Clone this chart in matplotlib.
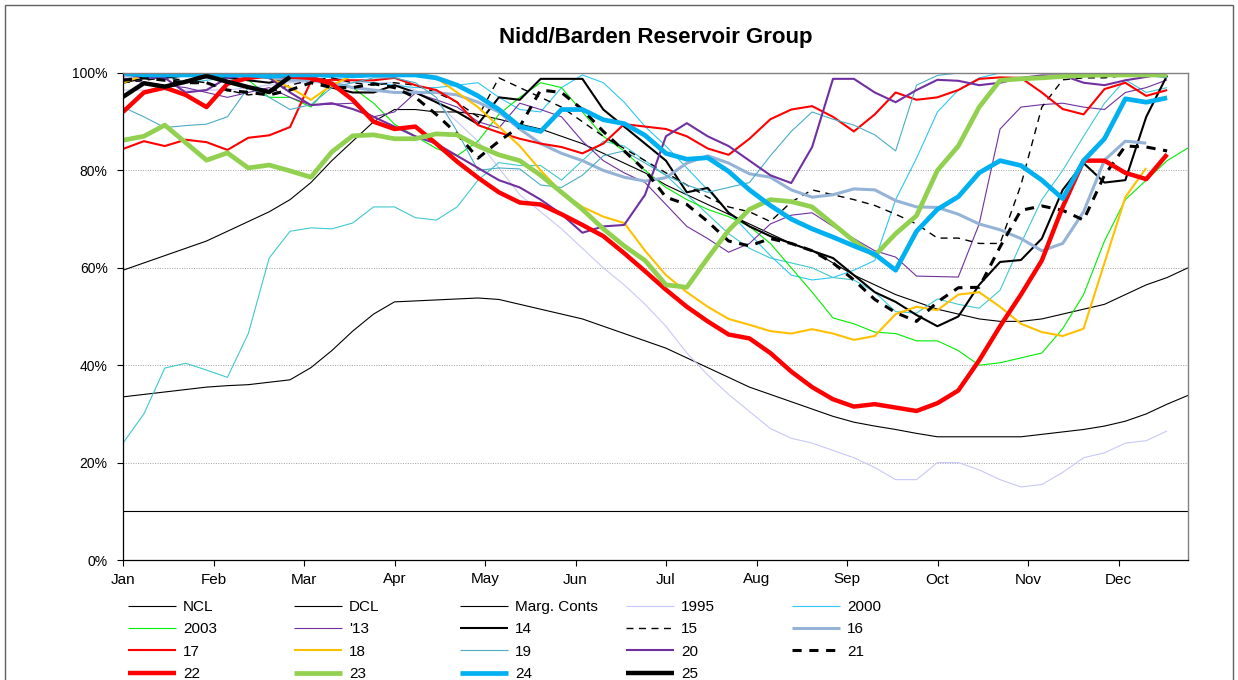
import numpy as np
import matplotlib
matplotlib.use('Agg')
import matplotlib.pyplot as plt
from matplotlib.patches import Rectangle

plt.rcParams['font.family'] = ['Liberation Sans', 'DejaVu Sans']

# ---------------- data (weekly % full, one value per week from Jan) ----------------
months = ['Jan', 'Feb', 'Mar', 'Apr', 'May', 'Jun', 'Jul', 'Aug', 'Sep', 'Oct', 'Nov', 'Dec']
pct_ticks = [0, 20, 40, 60, 80, 100]

ncl = [59.5, 61, 62.5, 64, 65.5, 67.5, 69.5, 71.5, 74, 77.5,
       82, 86, 90, 92.5, 92.5, 92, 92, 91.5, 90.5, 89.5,
       88.5, 87, 85.5, 83.5, 81.5, 79.5, 77, 75, 73, 71,
       69, 67, 65, 63.5, 61, 58.5, 56.5, 54.5, 53, 51.5,
       50.5, 49.5, 49, 49, 49.5, 50.5, 51.5, 52.5, 54.5, 56.5,
       58, 60]
dcl = [33.5, 34, 34.5, 35, 35.5, 35.8, 36, 36.5, 37, 39.5,
       43, 47, 50.5, 53, 53.2, 53.4, 53.6, 53.8, 53.5, 52.5,
       51.5, 50.5, 49.5, 48, 46.5, 45, 43.5, 41.5, 39.5, 37.5,
       35.5, 34, 32.5, 31, 29.5, 28.3, 27.5, 26.8, 26, 25.3,
       25.3, 25.3, 25.3, 25.3, 25.8, 26.3, 26.8, 27.5, 28.5, 30,
       32, 33.8]
marg = [10, 10, 10, 10, 10, 10, 10, 10, 10, 10,
        10, 10, 10, 10, 10, 10, 10, 10, 10, 10,
        10, 10, 10, 10, 10, 10, 10, 10, 10, 10,
        10, 10, 10, 10, 10, 10, 10, 10, 10, 10,
        10, 10, 10, 10, 10, 10, 10, 10, 10, 10,
        10, 10]
y1995 = [96.5, 96.5, 96.5, 96.5, 96.5, 96.5, 97, 97.5, 98, 98,
         98, 98, 98, 98, 96.5, 94, 90, 86, 80.5, 75,
         71.5, 68, 64, 60, 56.5, 52.5, 48, 42.5, 38, 34,
         30.5, 27, 25, 24, 22.5, 21, 19, 16.5, 16.5, 20,
         20, 18.5, 16.5, 15, 15.5, 18, 21, 22, 24, 24.5,
         26.5]
y2000 = [99.5, 99, 99.5, 98, 98.5, 99, 99.5, 100, 100, 99.5,
         99, 98.5, 98, 97.5, 97, 97, 97.5, 98, 95, 92.5,
         92, 97, 99.6, 98, 94, 89, 85, 80.5, 76, 71.5,
         67, 62.5, 58.5, 57.5, 58, 59.5, 61.5, 74, 82.5, 92,
         96.5, 99, 100, 100, 100, 99.8, 99.8, 100, 100, 99.8,
         99.5]
y_other = [24, 30, 39.4, 40.4, 39, 37.5, 46.5, 62, 67.5, 68.2,
           68, 69.2, 72.5, 72.5, 70.3, 69.8, 72.5, 78, 81.6, 81,
           81, 78, 82, 86, 85, 82, 79, 75, 71, 67,
           64, 62, 61, 60, 58, 57.5, 55, 51, 50.7, 53.6,
           52.5, 51.7, 55.4, 65, 74, 80, 87, 93.8, 98.6, 96,
           97]
y2003 = [100, 100, 99.5, 99.5, 99, 99, 98.6, 95, 95, 93,
         98, 97, 93.8, 89.5, 87, 84.5, 83, 86, 91.5, 95,
         98, 97, 92, 87, 84, 80, 76.5, 74, 72, 70.5,
         68.5, 65, 60, 55, 49.7, 48.5, 46.8, 46.5, 45, 45,
         43, 40, 40.5, 41.5, 42.5, 47.5, 54.5, 65.5, 74, 78,
         82, 84.6]
y13 = [99, 98, 97.5, 97, 96, 95, 96, 97, 95, 93.4,
       93.6, 93.8, 91, 92, 95.9, 94.5, 93, 90, 88.7, 93.8,
       92.5, 91, 86, 82, 79.5, 77.5, 73, 68.5, 66, 63.2,
       65, 69, 70.8, 71.3, 68.5, 66, 63.5, 62.2, 58.3, 58.2,
       58.1, 69, 88.5, 93, 93.5, 93.8, 93, 92.5, 96, 97,
       98.6]
y14 = [98, 99, 99, 99.5, 99.5, 99, 98.5, 98, 99, 99,
       97, 96, 96, 97.5, 96, 94, 92, 89.5, 95, 94.5,
       98.8, 98.8, 98.8, 92.5, 89, 85.5, 82, 75.5, 76.4, 71.3,
       68.5, 66.5, 65, 63.5, 62, 58.5, 55, 53, 50.3, 48,
       50, 56.5, 61.2, 61.6, 66, 76, 81.5, 77.5, 78, 91,
       99.5]
y15 = [98, 98.5, 99, 98.5, 98, 96.5, 95.5, 96, 97.5, 98.5,
       99, 98, 97.5, 98, 97.5, 96, 94, 91, 99, 97,
       95, 93, 90, 87, 84.5, 82, 79.5, 77, 74.5, 72.5,
       71.5, 69.5, 73.5, 76, 75, 74, 72.8, 71, 69, 66.1,
       66.1, 65, 65, 77, 93, 98.6, 99, 99, 99.5, 100,
       100]
y16 = [99.5, 99, 99.5, 100, 99, 99.5, 100, 99, 98.5, 98.5,
       98, 97, 96.5, 96, 96, 96, 95.5, 94, 92, 88.5,
       85.5, 83.5, 82, 80, 78.6, 77.8, 78.5, 81.5, 83, 81.5,
       79.3, 78.6, 76, 74.5, 75, 76.2, 76, 73.8, 72.5, 72.4,
       71, 69, 67.8, 66, 63.5, 65, 71.5, 82.1, 86, 85.6]
y17 = [84.4, 86, 85, 86.3, 85.8, 84.2, 86.7, 87.2, 88.9, 98.3,
       98.6, 98.5, 98.5, 99, 97.5, 96.5, 94, 89.3, 87.8, 86.5,
       85.5, 84.8, 83.5, 85.5, 89.5, 89, 88.5, 87, 84.5, 83.2,
       86.5, 90.5, 92.5, 93.2, 91, 88, 91.5, 96, 94.5, 95,
       96.5, 98.8, 99.1, 99, 96, 92.6, 91.5, 96.7, 98, 95.3,
       96.5]
y18 = [98, 99.5, 100, 100, 100, 100, 99.8, 99, 97, 94.5,
       97.5, 99.5, 100, 100, 100, 99, 96, 93, 89, 85,
       80, 75.5, 72.5, 70.5, 69.2, 63.5, 58.5, 55, 52, 49.5,
       48.3, 47, 46.5, 47.4, 46.5, 45.2, 46, 50.5, 52, 51.3,
       54.5, 55, 52, 48.5, 46.8, 46, 47.5, 61, 74.5, 80.5]
y19 = [93, 91, 88.8, 89.2, 89.5, 91, 97, 95, 92.5, 93.5,
       97, 98, 99, 99, 98, 95, 88, 80, 80.5, 80.3,
       77, 76.5, 79, 83, 84, 81.5, 79, 77, 75.5, 76.5,
       77.5, 83, 88, 92, 90.5, 89.3, 87.3, 84, 97.5, 99.5,
       100, 100, 100, 100, 100, 100, 99.5, 100, 100, 99.5,
       99]
y20 = [100, 99, 99, 96, 96.5, 99, 99.5, 99, 96, 93.4,
       93.8, 92.6, 91, 89, 87, 85.5, 83, 80.5, 78, 76.5,
       74, 71, 67.2, 68.5, 68.8, 75, 87, 89.7, 87, 85,
       82, 79, 77.4, 84.8, 98.8, 98.8, 96, 94, 96.5, 98.6,
       98.4, 97.5, 98, 99, 99.5, 99.5, 98, 97.5, 98.5, 99.2,
       100]
y21 = [98.5, 99, 98.5, 98, 98, 96.5, 96, 95.5, 96.5, 98,
       97, 97, 97.8, 97, 95, 91.5, 87.5, 82.5, 86, 89,
       96.5, 96, 92.5, 88, 84, 80, 74.5, 73, 69.5, 65.5,
       64.5, 66, 65, 63.5, 61, 57.5, 53.5, 50.8, 49, 53,
       55.9, 56, 64.3, 71.8, 72.7, 71.8, 69.8, 79, 85, 84.8,
       84]
y22 = [92, 96, 97, 95.5, 93, 97.8, 99, 99.5, 99.3, 99,
       97.8, 94.5, 90, 88.5, 89, 85.5, 81.8, 78.5, 75.5, 73.4,
       73, 71, 68.8, 66.5, 63, 59.3, 55.5, 52, 49, 46.3,
       45.5, 42.5, 38.7, 35.5, 33, 31.5, 32, 31.3, 30.6, 32.2,
       34.8, 41, 48, 54.5, 61.5, 72.5, 82, 82, 79.5, 78.2,
       83.3]
y23 = [86.2, 87, 89.3, 85.7, 82.1, 83.6, 80.5, 81.1, 79.9, 78.6,
       83.8, 87.1, 87.3, 86.5, 86.5, 87.5, 87.3, 85, 83.2, 82,
       79, 75.5, 72, 68, 64.5, 61.5, 56.5, 56, 62, 67.7,
       72, 74, 73.6, 72.5, 69, 65.5, 62.5, 67, 70.7, 80,
       85, 93, 98.5, 98.8, 99, 99.3, 99.5, 99.6, 99.6, 99.6,
       99.6]
y24 = [100, 99.6, 99.6, 99.6, 99.6, 99.6, 99.6, 99.3, 99.6, 99.6,
       99.6, 99.4, 99.6, 99.6, 99.6, 99, 97.5, 95.3, 92.5, 89,
       88, 92.5, 92.5, 90.4, 89.6, 87.2, 83.5, 82.3, 82.6, 79.8,
       76, 72.8, 70, 68, 66.3, 64.5, 62.8, 59.5, 67.5, 72,
       74.6, 79.5, 82, 81, 78, 74.2, 82, 86.5, 94.7, 94,
       94.9]
y25 = [95.1, 97.9, 97.2, 98.2, 99.4, 98.2, 97.1, 96.1, 99.2]

# ---------------- styles ----------------
K = 'black'
series = [
    # label, values, color, linewidth, dashes
    ('NCL', ncl, K, 0.8, None),
    ('DCL', dcl, K, 0.8, None),
    ('Marg. Conts', marg, K, 0.8, None),
    ('1995', y1995, '#c8c8f8', 0.8, None),
    ('2000', y2000, '#2ec8f0', 0.8, None),
    ('_other', y_other, '#40c8d0', 0.8, None),
    ('2003', y2003, '#00ee00', 0.8, None),
    ("'13", y13, '#7030a0', 0.8, None),
    ('14', y14, K, 1.5, None),
    ('15', y15, K, 1.0, (5, 4)),
    ('16', y16, '#95b3d7', 2.2, None),
    ('17', y17, '#ff0000', 1.5, None),
    ('18', y18, '#ffc000', 1.5, None),
    ('19', y19, '#4bacc6', 0.8, None),
    ('20', y20, '#7030a0', 1.5, None),
    ('21', y21, K, 2.2, (3, 2.5)),
    ('22', y22, '#ff0000', 3.2, None),
    ('23', y23, '#92d050', 3.4, None),
    ('24', y24, '#00b0f0', 3.4, None),
    ('25', y25, K, 3.2, None),
]

W, H = 1238, 680
fig = plt.figure(figsize=(W / 100, H / 100), dpi=100)
ax = fig.add_axes([123 / W, 1 - 560 / H, 1065 / W, 487 / H])

handles = {}
for label, vals, col, lw, dashes in series:
    x = np.arange(len(vals))
    kw = dict(color=col, lw=lw, solid_joinstyle='round', solid_capstyle='butt')
    if dashes is not None:
        kw['dashes'] = dashes
        kw['dash_capstyle'] = 'butt'
    ln, = ax.plot(x, vals, label=label, **kw)
    handles[label] = ln

FS = 11
ax.set_xlim(0, 51)
ax.set_ylim(0, 100)
week_per_month = 4.334
ax.set_xticks([i * week_per_month for i in range(len(months))])
ax.set_xticklabels(months)
ax.set_yticks(pct_ticks)
ax.set_yticklabels([f'{p}%' for p in pct_ticks])
ax.tick_params(axis='x', labelsize=FS, length=4, width=0.8, direction='out', colors='black', pad=5)
ax.tick_params(axis='y', labelsize=10, length=4, width=0.8, direction='out', colors='black', pad=7)
for p in pct_ticks[1:-1]:
    ax.axhline(p, color='#a0a0a0', lw=0.7, ls=(0, (1, 1.5)), zorder=0)
for s in ['top', 'right']:
    ax.spines[s].set_color('#808080')
    ax.spines[s].set_linewidth(1.0)
for s in ['left', 'bottom']:
    ax.spines[s].set_color('black')
    ax.spines[s].set_linewidth(0.9)

fig.text(656 / W, 1 - 38 / H, 'Nidd/Barden Reservoir Group', ha='center', va='center',
         fontsize=16, fontweight='bold')

# legend laid out as 5 equal columns (Excel style, filled row-wise)
order = ['NCL', 'DCL', 'Marg. Conts', '1995', '2000',
         '2003', "'13", '14', '15', '16',
         '17', '18', '19', '20', '21',
         '22', '23', '24', '25']
for c in range(5):
    labs = order[c::5]
    fig.legend([handles[l] for l in labs], labs, loc='upper left',
               bbox_to_anchor=((128 + 166 * c) / W, 1 - 600 / H),
               frameon=False, fontsize=FS, handlelength=3.15, handletextpad=0.45,
               labelspacing=0.55, borderpad=0, borderaxespad=0)

fig.patches.append(Rectangle((5 / W, -0.02), 1228 / W, (H - 5) / H + 0.02,
                             transform=fig.transFigure, fill=False, ec='#606060', lw=1.0))

fig.savefig('out.png', dpi=100)
